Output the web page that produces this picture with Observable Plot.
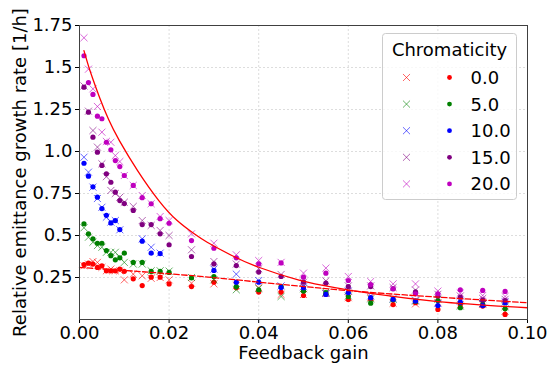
<!DOCTYPE html>
<html>
<head>
<meta charset="utf-8">
<script src="https://cdn.jsdelivr.net/npm/d3@7"></script>
<script src="https://cdn.jsdelivr.net/npm/@observablehq/plot@0.6"></script>
<style>
  html, body { margin: 0; padding: 0; background: #fff; }
  #wrap { position: relative; width: 548px; height: 369px; }
  #wrap svg { display: block; }
  #legend { position: absolute; left: 0; top: 0; pointer-events: none; }
</style>
</head>
<body>
<div id="wrap"></div>
<script>
// ---------------- data ----------------
const gains = [0.001,0.002,0.003,0.004,0.005,0.006,0.007,0.008,0.009,0.010,
               0.012,0.014,0.016,0.018,0.020,0.025,0.030,0.035,0.040,0.045,
               0.050,0.055,0.060,0.065,0.070,0.075,0.080,0.085,0.090,0.095];

const chromaticities = ["0.0", "5.0", "10.0", "15.0", "20.0"];
const colors = ["#ff0000", "#008000", "#0000ff", "#800080", "#bf00bf"];

// "x" markers
const crossC0  = [0.32,0.33,0.345,0.34,0.31,0.29,0.30,0.29,0.29,0.236,0.27,0.26,0.245,0.25,0.236,0.216,0.212,0.202,0.189,0.149,0.149,0.155,0.13,0.13,0.097,0.093,0.10,0.089,0.09,0.049];
const crossC5  = [0.546,0.49,0.46,0.44,0.43,0.40,0.40,0.40,0.37,0.34,0.33,0.33,0.29,0.29,0.288,0.25,0.236,0.177,0.185,0.137,0.183,0.163,0.14,0.123,0.12,0.11,0.12,0.08,0.095,0.077];
const crossC10 = [0.966,0.877,0.788,0.72,0.668,0.609,0.58,0.589,0.534,null,null,0.48,0.43,0.395,null,null,0.30,0.27,0.232,0.20,0.195,0.155,0.17,0.14,0.125,0.115,0.095,0.11,0.095,0.105];
const crossC15 = [1.39,1.24,1.125,1.026,0.927,0.85,0.768,0.75,0.728,0.698,0.673,0.589,0.56,0.53,0.50,0.415,0.345,0.33,0.302,0.268,0.222,0.23,0.20,0.20,0.19,0.175,0.15,0.14,0.125,0.12];
const crossC20 = [1.677,1.49,1.373,1.268,1.115,1.06,1.055,0.976,0.94,0.857,0.798,0.738,0.689,0.613,0.589,0.51,0.454,0.385,0.351,0.34,0.276,0.306,0.256,0.226,0.212,0.212,0.169,0.157,0.143,0.137];

// filled dots
const dotC0  = [0.327,0.335,0.33,0.31,0.32,0.29,0.29,0.29,0.30,0.287,0.242,0.202,0.252,0.252,0.212,0.196,0.222,0.189,0.163,0.163,0.143,0.15,0.119,0.12,0.089,0.10,0.06,0.09,0.08,0.03];
const dotC5  = [0.57,0.51,0.48,0.454,0.454,0.41,0.38,0.355,0.367,0.395,0.34,0.34,0.286,0.286,0.28,0.248,0.256,0.196,0.177,0.196,0.169,0.16,0.137,0.097,0.117,0.109,0.113,0.07,0.09,0.064];
const dotC10 = [0.93,0.853,0.79,0.728,0.66,0.62,0.575,0.589,0.535,null,null,0.466,0.395,0.392,null,null,0.292,0.222,0.222,0.19,0.189,0.149,0.16,0.13,0.12,0.11,0.083,0.103,0.083,0.10];
const dotC15 = [1.383,1.234,1.085,0.996,0.917,0.867,0.817,0.758,0.708,0.69,0.649,0.565,0.565,0.51,0.445,0.375,0.331,0.321,0.282,0.256,0.222,0.216,0.196,0.196,0.183,0.165,0.14,0.133,0.117,0.113];
const dotC20 = [1.57,1.41,1.34,1.21,1.195,1.055,1.01,0.946,0.91,0.857,0.798,0.725,0.689,0.60,0.573,0.47,0.424,0.367,0.331,0.337,0.252,0.276,0.232,0.208,0.183,0.153,0.153,0.177,0.173,0.167];

// fitted curves
const fitGain = [0.001,0.002,0.003,0.0045,0.0065,0.0089,0.013,0.0177,0.0218,0.0256,0.0285,0.034,0.040,0.049,0.057,0.065,0.080,0.100];
const fitRate = [1.60,1.51,1.43,1.32,1.19,1.065,0.885,0.708,0.589,0.51,0.46,0.381,0.311,0.235,0.19,0.155,0.107,0.07];
const dashGain = [0.000,0.028,0.060,0.100];
const dashRate = [0.31,0.254,0.172,0.10];

// axes
const xTicks = [0, 0.02, 0.04, 0.06, 0.08, 0.10];
const xTickLabels = ["0.00", "0.02", "0.04", "0.06", "0.08", "0.10"];
const yTicks = [0.25, 0.5, 0.75, 1.0, 1.25, 1.5, 1.75];
const yTickLabels = ["0.25", "0.5", "0.75", "1.0", "1.25", "1.5", "1.75"];
const xLabel = "Feedback gain";
const yLabel = "Relative emittance growth rate [1/h]";
const legendTitle = "Chromaticity";

// ---------------- build tables ----------------
const crossSeries = [crossC0, crossC5, crossC10, crossC15, crossC20];
const dotSeries = [dotC0, dotC5, dotC10, dotC15, dotC20];
const toRows = (vals) => gains.map((g, i) => ({gain: g, rate: vals[i]})).filter(d => d.rate != null);
const fitRows = fitGain.map((g, i) => ({gain: g, rate: fitRate[i]}));
const dashRows = dashGain.map((g, i) => ({gain: g, rate: dashRate[i]}));

const FONT = "'DejaVu Sans', sans-serif";
const FS = 18;
const marks = [
  Plot.ruleX(xTicks.slice(1), {stroke: "#b0b0b0", strokeOpacity: 0.55, strokeDasharray: "2,2", strokeWidth: 0.8}),
  Plot.ruleY(yTicks, {stroke: "#b0b0b0", strokeOpacity: 0.55, strokeDasharray: "2,2", strokeWidth: 0.8})
];
chromaticities.forEach((c, k) => {
  marks.push(Plot.dot(toRows(crossSeries[k]), {x: "gain", y: "rate", symbol: "times", r: 3.3, stroke: colors[k], strokeOpacity: 0.6, strokeWidth: 1}));
  marks.push(Plot.dot(toRows(dotSeries[k]), {x: "gain", y: "rate", r: 2.6, fill: colors[k], stroke: "none"}));
});
marks.push(Plot.line(fitRows, {x: "gain", y: "rate", stroke: "#ff0000", strokeWidth: 1.3, curve: "natural"}));
marks.push(Plot.line(dashRows, {x: "gain", y: "rate", stroke: "#ff0000", strokeWidth: 1.3, strokeDasharray: "5.5,2.4", curve: "natural"}));
marks.push(Plot.frame({stroke: "#404040", strokeWidth: 1}));
marks.push(Plot.text([xLabel], {frameAnchor: "bottom", dy: 34, fontSize: FS, fill: "#000", textAnchor: "middle", lineAnchor: "middle"}));
marks.push(Plot.text([yLabel], {frameAnchor: "left", dx: -59, rotate: -90, fontSize: FS, fill: "#000", textAnchor: "middle", lineAnchor: "middle"}));

const chart = Plot.plot({
  width: 548,
  height: 369,
  marginLeft: 79,
  marginRight: 21,
  marginTop: 25,
  marginBottom: 50,
  style: {fontFamily: FONT, fontSize: FS + "px", color: "#000", background: "#fff", overflow: "visible"},
  x: {domain: [0, 0.1], ticks: xTicks, tickFormat: (d) => xTickLabels[xTicks.indexOf(d)], tickSize: 4, tickPadding: 3, label: null},
  y: {domain: [0, 1.75], ticks: yTicks, tickFormat: (d) => yTickLabels[yTicks.indexOf(d)], tickSize: 4, tickPadding: 3, label: null},
  marks
});
const wrap = document.getElementById("wrap");
wrap.appendChild(chart);

// ---------------- legend overlay ----------------
const L = {left: 382.5, top: 33.5, w: 134, h: 166, rowTop: 44, rowStep: 26.6, crossX: 24, dotX: 67, textX: 88};
const lg = d3.select(wrap).append("svg").attr("id", "legend").attr("width", 548).attr("height", 369)
  .style("font-family", FONT);
const g = lg.append("g").attr("transform", `translate(${L.left},${L.top})`);
g.append("rect").attr("width", L.w).attr("height", L.h).attr("rx", 3)
  .attr("fill", "#fff").attr("fill-opacity", 0.8).attr("stroke", "#cccccc").attr("stroke-width", 1);
g.append("text").attr("x", L.w / 2).attr("y", 16).attr("text-anchor", "middle").attr("dominant-baseline", "central")
  .attr("font-size", FS).text(legendTitle);
const timesPath = d3.symbol(d3.symbolTimes, 34)();
chromaticities.forEach((c, k) => {
  const y = L.rowTop + k * L.rowStep;
  g.append("path").attr("d", timesPath).attr("transform", `translate(${L.crossX},${y})`)
    .attr("fill", "none").attr("stroke", colors[k]).attr("stroke-opacity", 0.6).attr("stroke-width", 1);
  g.append("circle").attr("cx", L.dotX).attr("cy", y).attr("r", 2.4).attr("fill", colors[k]);
  g.append("text").attr("x", L.textX).attr("y", y).attr("dominant-baseline", "central")
    .attr("font-size", FS).text(c);
});
</script>
</body>
</html>
